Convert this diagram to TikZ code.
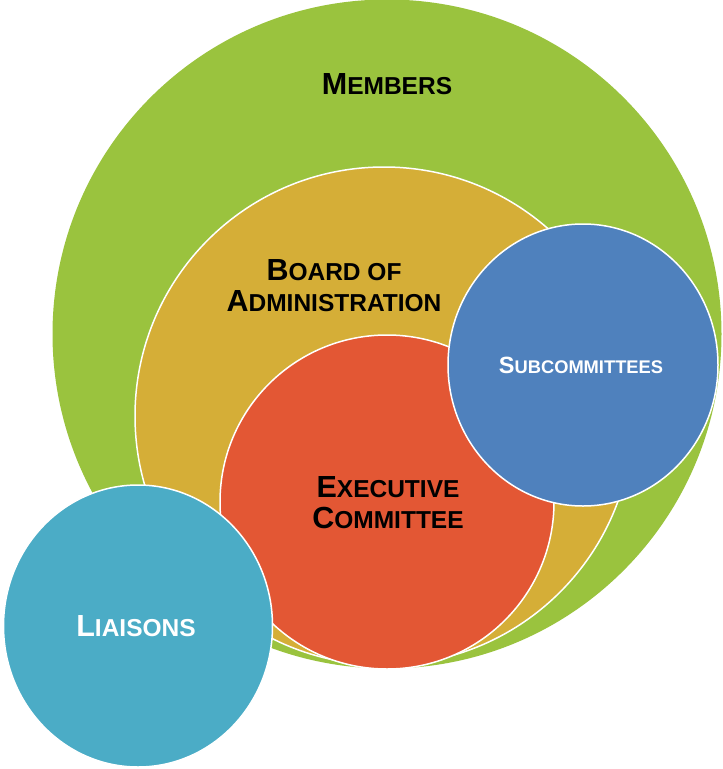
\documentclass[tikz,border=0pt]{standalone}
\usepackage{fontspec}
\setmainfont{Liberation Sans}
\usetikzlibrary{shapes.geometric}

\definecolor{memgreen}{HTML}{9AC33E}
\definecolor{boardgold}{HTML}{D5AE37}
\definecolor{execred}{HTML}{E35734}
\definecolor{subblue}{HTML}{4F81BD}
\definecolor{liaiteal}{HTML}{4BACC6}

% fake small caps, large and small size
\newcommand{\bigsc}[2]{{\fontsize{30.5}{31}\selectfont #1}{\fontsize{24.5}{31}\selectfont #2}}
\newcommand{\smallsc}[2]{{\fontsize{23.5}{31}\selectfont #1}{\fontsize{18.3}{31}\selectfont #2}}

\tikzset{
  disc/.style={circle, draw=white, line width=1.5pt, inner sep=0pt},
  oval/.style={ellipse, draw=white, line width=1.5pt, inner sep=0pt},
  ctext/.style={font=\bfseries\fontsize{30}{31}\selectfont, align=center, text=black, inner sep=0pt}
}

\begin{document}
\begin{tikzpicture}[x=1pt,y=-1pt]
\useasboundingbox (0,0) rectangle (723,769);

\node[disc, fill=memgreen, draw=none, minimum size=669] (members) at (387,334) {};
\node[disc, fill=boardgold, minimum size=498] (board) at (384,416) {};
\node[disc, fill=execred, minimum size=334] (exec) at (387,502) {};
\node[oval, fill=subblue, minimum width=270, minimum height=282] (sub) at (583,365) {};
\node[oval, fill=liaiteal, minimum width=269, minimum height=282] (liai) at (138,626) {};

\node[ctext] (memtext) at (387,84) {\bigsc{M}{EMBERS}};
\node[ctext] (boardtext) at (334,286) {\bigsc{B}{OARD OF}\\\bigsc{A}{DMINISTRATION}};
\node[ctext] (exectext) at (388,503) {\bigsc{E}{XECUTIVE}\\\bigsc{C}{OMMITTEE}};
\node[ctext, text=white] (subtext) at (581,365) {\smallsc{S}{UBCOMMITTEES}};
\node[ctext, text=white] (liaitext) at (136,626) {\bigsc{L}{IAISONS}};
\end{tikzpicture}
\end{document}
